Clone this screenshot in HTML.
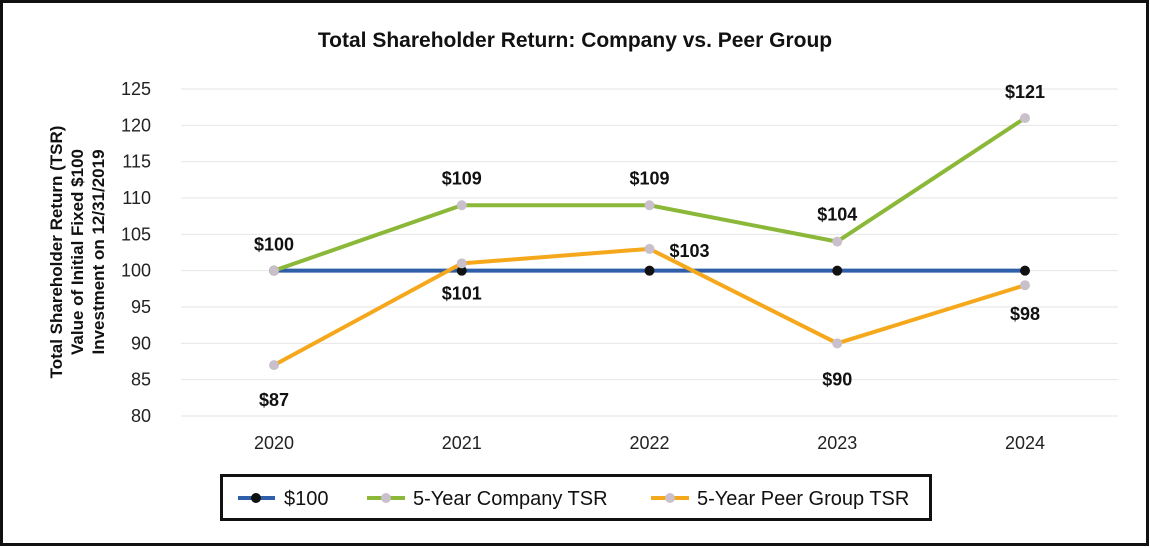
<!DOCTYPE html>
<html><head><meta charset="utf-8"><style>
body{margin:0;background:#fff;}
svg{display:block;font-family:"Liberation Sans",Arial,sans-serif;}
</style></head><body>
<svg id="c" width="1150" height="548" viewBox="0 0 1150 548">
<rect x="1.5" y="1.5" width="1146" height="543" fill="#fff" stroke="#111" stroke-width="3"/>
<text x="575" y="47" text-anchor="middle" font-size="21" font-weight="bold" fill="#111">Total Shareholder Return: Company vs. Peer Group</text>
<g transform="translate(62,252) rotate(-90)" font-size="17" font-weight="bold" fill="#111" text-anchor="middle">
<text x="0" y="0">Total Shareholder Return (TSR)</text>
<text x="0" y="21">Value of Initial Fixed $100</text>
<text x="0" y="42">Investment on 12/31/2019</text>
</g>
<g id="grid"></g><g id="series"></g><g id="labels"></g>
<g>
<rect x="221.5" y="475.5" width="709" height="44" fill="#fff" stroke="#111" stroke-width="3"/>
<g><line x1="238" y1="498" x2="275" y2="498" stroke="#2e5fa8" stroke-width="4"/><circle cx="256" cy="498" r="5" fill="#111"/><text x="284" y="505" font-size="20" fill="#111">$100</text></g>
<g><line x1="367" y1="498" x2="405" y2="498" stroke="#8cb83a" stroke-width="4"/><circle cx="386" cy="498" r="5" fill="#c9c0cc"/><text x="413" y="505" font-size="20" fill="#111">5-Year Company TSR</text></g>
<g><line x1="651" y1="498" x2="689" y2="498" stroke="#f5a81c" stroke-width="4"/><circle cx="670" cy="498" r="5" fill="#c9c0cc"/><text x="697" y="505" font-size="20" fill="#111">5-Year Peer Group TSR</text></g>
</g>
</svg>
<script>
const categories=["2020","2021","2022","2023","2024"];
const baseline=[100,100,100,100,100];
const company=[100,109,109,104,121];
const peer=[87,101,103,90,98];
const yTicks=[80,85,90,95,100,105,110,115,120,125];
const NS="http://www.w3.org/2000/svg";
const x=i=>274+i*187.75;
const y=v=>416-(v-80)*(327/45);
function mk(t,a,p){const e=document.createElementNS(NS,t);for(const k in a)e.setAttribute(k,a[k]);p.appendChild(e);return e;}
const g=document.getElementById('grid'),s=document.getElementById('series'),l=document.getElementById('labels');
yTicks.forEach(v=>{
 const ln=mk('line',{x1:181,x2:1118,y1:y(v),y2:y(v),stroke:'#e6e6e6','stroke-width':1},g);
 
 
 const t=mk('text',{x:151,y:y(v)+6,'text-anchor':'end','font-size':18,fill:'#222'},g);t.textContent=v;
 
 
});
categories.forEach((c,i)=>{const t=mk('text',{x:x(i),y:449,'text-anchor':'middle','font-size':18,fill:'#222'},g);t.textContent=c;
 
 });
function line(d,col,mc,name){
 const p=mk('polyline',{points:d.map((v,i)=>x(i)+','+y(v)).join(' '),fill:'none',stroke:col,'stroke-width':4,'stroke-linejoin':'round'},s);
 
 
 d.forEach((v,i)=>{const c=mk('circle',{cx:x(i),cy:y(v),r:5,fill:mc},s);
  
  });
}
line(baseline,'#2e5fa8','#111','baseline');
line(peer,'#f5a81c','#c9c0cc','peer');
line(company,'#8cb83a','#c9c0cc','company');
function lab(v,i,dx,dy,name){const t=mk('text',{x:x(i)+dx,y:y(v)+dy,'text-anchor':'middle','font-size':18,'font-weight':'bold',fill:'#111'},l);t.textContent='$'+v;
 
 }
const cOff=[[0,-20],[0,-21],[0,-21],[0,-21],[0,-20]];
company.forEach((v,i)=>lab(v,i,cOff[i][0],cOff[i][1],'company-label-'+categories[i]));
const pOff=[[0,41],[0,36],[40,8],[0,42],[0,35]];
peer.forEach((v,i)=>lab(v,i,pOff[i][0],pOff[i][1],'peer-label-'+categories[i]));
</script>
</body></html>
